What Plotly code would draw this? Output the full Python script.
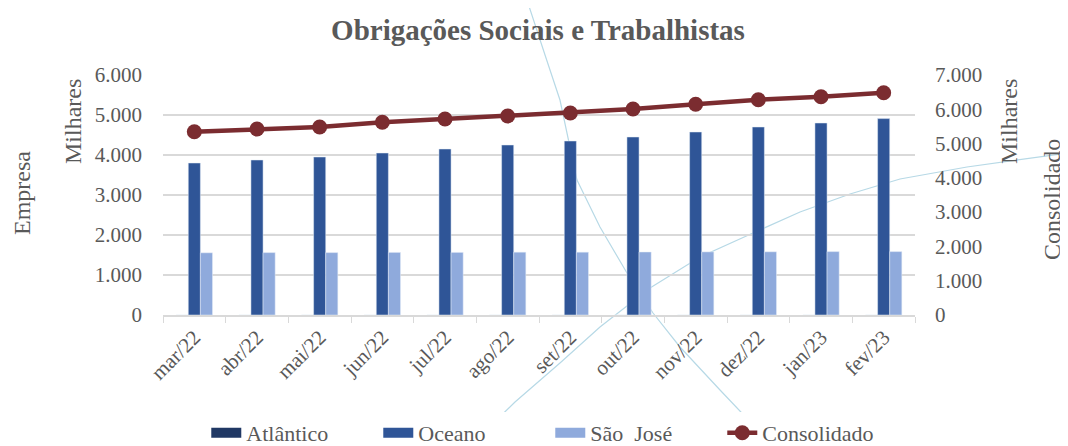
import plotly.graph_objects as go

# ______ data ______ #
meses = ["mar/22", "abr/22", "mai/22", "jun/22", "jul/22", "ago/22",
         "set/22", "out/22", "nov/22", "dez/22", "jan/23", "fev/23"]

atlantico = [0, 0, 0, 0, 0, 0, 0, 0, 0, 0, 0, 0]
oceano = [3800, 3875, 3950, 4050, 4150, 4250, 4350, 4450, 4575, 4700, 4800, 4910]
sao_jose = [1555, 1560, 1560, 1565, 1565, 1570, 1570, 1575, 1578, 1580, 1585, 1585]
consolidado = [5346, 5425, 5483, 5620, 5716, 5804, 5891, 6008, 6145, 6280, 6367, 6484]

left_ticks = [0, 1000, 2000, 3000, 4000, 5000, 6000]
right_ticks = [0, 1000, 2000, 3000, 4000, 5000, 6000, 7000]

# page is 1068x446 but the html body has an 8px margin
OFF = 8
W, H = 1068 - OFF, 446 - OFF
# plot area in page pixels
L, R, T, B = 163, 915, 75, 315

def to_paper(px, py):
    return (px - L) / (R - L), (B - py) / (B - T)

def arc_path(points):
    pts = [to_paper(x, y) for x, y in points]
    d = "M %.4f,%.4f" % pts[0]
    for p in pts[1:]:
        d += " L %.4f,%.4f" % p
    return d

arc1 = [(527, 0), (545, 55), (560, 100), (577, 180), (600, 227), (627, 273),
        (653, 313), (680, 347), (720, 390), (773, 446)]
arc2 = [(470, 446), (515, 402), (560, 363), (600, 327), (650, 288), (700, 257),
        (753, 233), (800, 212), (850, 194), (900, 179), (967, 167), (1068, 153)]

font = "Liberation Serif"
grey = "#595959"
colors = {"Atlântico": "#203864", "Oceano": "#2f5597", "São  José": "#8faadc"}

fig = go.Figure()
fig.add_bar(name="Atlântico", x=meses, y=atlantico, marker_color=colors["Atlântico"], showlegend=False)
fig.add_bar(name="Oceano", x=meses, y=oceano, marker_color=colors["Oceano"], showlegend=False)
fig.add_bar(name="São  José", x=meses, y=sao_jose, marker_color=colors["São  José"], showlegend=False)

# wide legend swatches like the excel ones
for nome, cor in colors.items():
    fig.add_scatter(name=nome, x=[None], y=[None], mode="lines",
                    line=dict(color=cor, width=14), hoverinfo="skip")

fig.add_scatter(name="Consolidado", x=meses, y=consolidado, yaxis="y2",
                mode="lines+markers", line=dict(color="#7b2c30", width=4.5),
                marker=dict(size=15, color="#7b2c30"))

fig.update_layout(
    width=W, height=H,
    margin=dict(l=L - OFF, r=W - (R - OFF), t=T - OFF, b=H - (B - OFF), autoexpand=False),
    paper_bgcolor="white", plot_bgcolor="white",
    separators=",.",
    font=dict(family=font, color=grey, size=20),
    barmode="group", bargap=0.42, bargroupgap=0,
    title=dict(text="<b>Obrigações Sociais e Trabalhistas</b>", x=(538 - OFF) / W, xanchor="center",
               y=1 - (30 - OFF) / H, yanchor="middle", font=dict(size=29, color=grey)),
    xaxis=dict(range=[-0.5, len(meses) - 0.5], tickangle=-45, showline=True,
               linecolor="#d9d9d9", linewidth=1.5,
               ticks="outside", tickson="boundaries", ticklen=6, tickcolor="#d9d9d9",
               tickfont=dict(size=21), automargin=False),
    yaxis=dict(range=[0, 6000], tickvals=left_ticks, tickformat=",.0f", automargin=False,
               tickfont=dict(size=21),
               gridcolor="#d9d9d9", gridwidth=1.5, zeroline=False, ticklabelstandoff=20),
    yaxis2=dict(range=[0, 7000], tickvals=right_ticks, tickformat=",.0f", automargin=False,
                tickfont=dict(size=21), ticklabelstandoff=19,
                overlaying="y", side="right", showgrid=False, zeroline=False),
    legend=dict(orientation="h", x=0.515, xanchor="center", y=to_paper(0, 433)[1],
                yanchor="middle", font=dict(size=22), traceorder="normal",
                entrywidth=127),
    showlegend=True,
)

for txt, px, py in [("Empresa", 22, 193), ("Milhares", 73, 122),
                    ("Milhares", 1009, 122), ("Consolidado", 1052, 200)]:
    x, y = to_paper(px, py)
    fig.add_annotation(text=txt, x=x, y=y, xref="paper", yref="paper",
                       textangle=-90, showarrow=False,
                       xanchor="center", yanchor="middle", font=dict(size=24, color=grey))

for arc in (arc1, arc2):
    fig.add_shape(type="path", path=arc_path(arc), xref="paper", yref="paper",
                  line=dict(color="#b7d9e6", width=1.2), layer="below")

fig.write_html("out.html")
